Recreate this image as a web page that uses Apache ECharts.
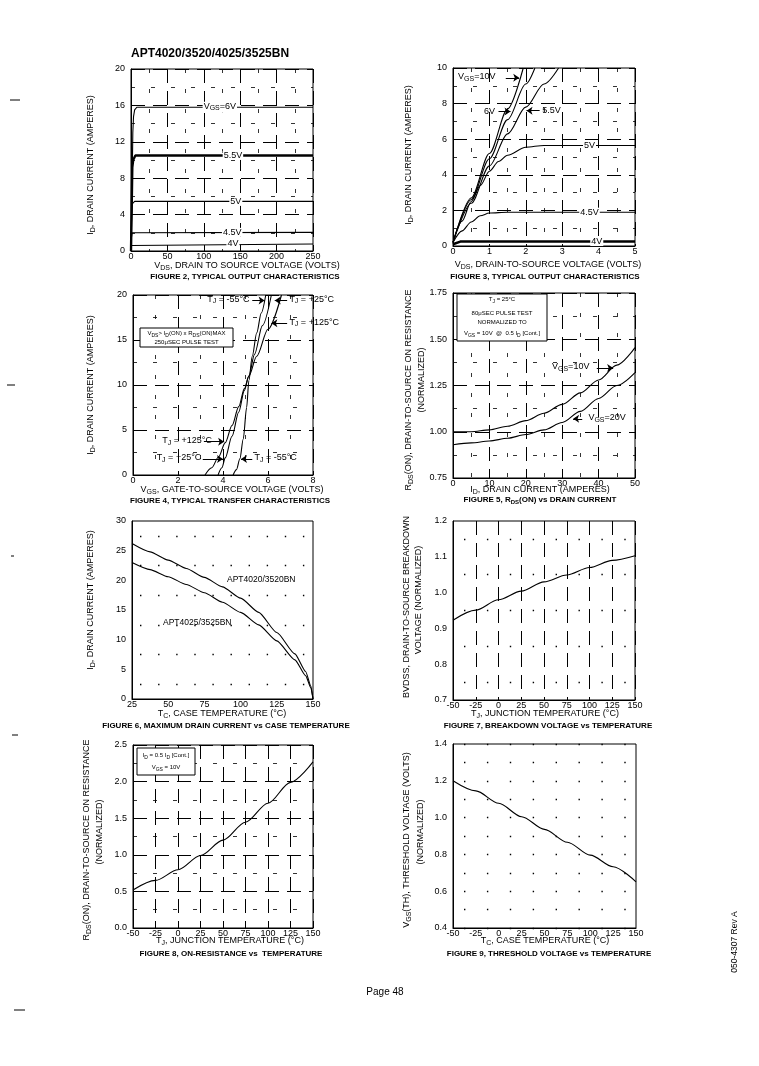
<!DOCTYPE html>
<html>
<head>
<meta charset="utf-8">
<title>APT4020/3520/4025/3525BN</title>
<script src="https://cdn.jsdelivr.net/npm/echarts@6.0.0/dist/echarts.min.js"></script>
<style>
html,body{margin:0;padding:0;background:#fff;}
#chart{width:759px;height:1066px;}
</style>
</head>
<body>
<div id="chart"></div>
<script>
// ================= DATA =================
// Figure 2 - typical output characteristics (VDS [V], ID [A])
const f2_xTicks = [0, 50, 100, 150, 200, 250];
const f2_yTicks = [0, 4, 8, 12, 16, 20];
const f2_vgs6  = [[0,0],[1,5],[2,10],[2.5,13],[3.5,14.8],[5,15.5],[8,15.8],[250,15.8]];
const f2_vgs55 = [[0,0],[1,5],[1.8,9.2],[3,10],[6,10.5],[250,10.5]];
const f2_vgs5  = [[0,0],[1,4],[2,5.2],[5,5.45],[250,5.45]];
const f2_vgs45 = [[0,0],[0.6,1.5],[1.5,2.0],[4,2.05],[250,2.05]];
const f2_vgs4  = [[0,0],[0.5,0.6],[1.5,0.77],[250,0.77]];

// Figure 3 - typical output characteristics, low VDS
const f3_xTicks = [0, 1, 2, 3, 4, 5];
const f3_yTicks = [0, 2, 4, 6, 8, 10];
const f3_vgs10 = [[0,0.2],[0.5,2.7],[1,5.2],[1.5,7.7],[1.93,10]];
const f3_vgs6  = [[0,0.2],[0.5,2.6],[1,4.9],[1.5,7.1],[2,9.1],[2.25,10]];
const f3_vgs55 = [[0,0.2],[0.5,2.4],[1,4.5],[1.5,6.3],[2,7.8],[2.5,9.1],[2.9,10]];
const f3_vgs5  = [[0,0.2],[0.25,1.4],[0.5,2.5],[0.75,3.4],[1,4.2],[1.25,4.75],[1.5,5.1],[2,5.55],[2.5,5.65],[5,5.65]];
const f3_vgs45 = [[0,0.2],[0.25,0.85],[0.5,1.35],[0.75,1.7],[1,1.85],[1.5,1.9],[5,1.9]];
const f3_vgs4  = [[0,0.1],[0.2,0.25],[5,0.25]];

// Figure 4 - typical transfer characteristics (VGS [V], ID [A])
const f4_xTicks = [0, 2, 4, 6, 8];
const f4_yTicks = [0, 5, 10, 15, 20];
const f4_tjm55 = [[4.45,0],[4.6,0.6],[4.75,1.8],[4.9,4.0],[5.05,7.5],[5.15,10.5],[5.3,13.2],[5.5,15.8],[5.7,18.0],[5.9,20]];
const f4_tj25  = [[3.78,0],[3.95,0.8],[4.1,1.9],[4.4,4.3],[4.7,7.0],[4.95,9.4],[5.15,11.0],[5.4,13.4],[5.75,16.6],[6.15,20]];
const f4_tj125 = [[3.2,0],[3.5,0.8],[3.8,2.0],[4.1,3.6],[4.4,5.5],[4.7,7.6],[4.95,9.6],[5.15,11.0],[5.5,13.2],[6.0,16.2],[6.6,20]];

// Figure 5 - RDS(ON) vs drain current (ID [A], normalized)
const f5_xTicks = [0, 10, 20, 30, 40, 50];
const f5_yTicks = [0.75, 1.00, 1.25, 1.50, 1.75];
const f5_vgs10 = [[0,1.0],[5,1.0],[10,1.01],[15,1.03],[20,1.06],[25,1.10],[30,1.148],[35,1.21],[40,1.28],[45,1.36],[50,1.455]];
const f5_vgs20 = [[0,0.93],[5,0.94],[10,0.95],[15,0.965],[20,0.985],[25,1.01],[30,1.05],[35,1.11],[40,1.18],[45,1.25],[50,1.32]];

// Figure 6 - maximum drain current vs case temperature (TC [C], ID [A])
const f6_xTicks = [25, 50, 75, 100, 125, 150];
const f6_yTicks = [0, 5, 10, 15, 20, 25, 30];
const f6_apt4020 = [[25,26.2],[37.5,24.8],[50,23.4],[62.5,22.0],[75,20.5],[87.5,18.9],[100,17.0],[112.5,14.6],[125,11.2],[137.5,7.6],[145,4.6],[148.5,2.2],[150,0]];
const f6_apt4025 = [[25,23.0],[37.5,21.8],[50,20.6],[62.5,19.3],[75,17.9],[87.5,16.3],[100,14.6],[112.5,12.5],[125,9.8],[137.5,6.6],[145,3.9],[148.5,1.9],[150,0]];

// Figure 7 - breakdown voltage vs temperature (TJ [C], normalized)
const f7_xTicks = [-50, -25, 0, 25, 50, 75, 100, 125, 150];
const f7_yTicks = [0.7, 0.8, 0.9, 1.0, 1.1, 1.2];
const f7_bvdss = [[-50,0.923],[-25,0.951],[0,0.98],[25,1.004],[50,1.03],[75,1.049],[100,1.07],[125,1.09],[150,1.103]];

// Figure 8 - on-resistance vs temperature (TJ [C], normalized)
const f8_xTicks = [-50, -25, 0, 25, 50, 75, 100, 125, 150];
const f8_yTicks = [0.0, 0.5, 1.0, 1.5, 2.0, 2.5];
const f8_rds = [[-50,0.52],[-25,0.65],[0,0.795],[25,0.99],[50,1.2],[75,1.445],[100,1.705],[125,1.99],[150,2.27]];

// Figure 9 - threshold voltage vs temperature (TC [C], normalized)
const f9_xTicks = [-50, -25, 0, 25, 50, 75, 100, 125, 150];
const f9_yTicks = [0.4, 0.6, 0.8, 1.0, 1.2, 1.4];
const f9_vth = [[-50,1.2],[-25,1.145],[0,1.078],[25,1.005],[50,0.936],[75,0.866],[100,0.796],[125,0.733],[150,0.651]];

// ================= LAYOUT / STYLE =================
const FONT = '"Liberation Sans", Arial, Helvetica, sans-serif';
const DASH   = {color:'#000', width:1, type:[14,8]};
const SPARSE = {color:'#000', width:0.8, type:[4,16]};
const DOT17  = {color:'#000', width:1.4, type:[1.4,16.7], dashOffset:-8};
const DOT23  = {color:'#000', width:1.4, type:[1.4,21.5], dashOffset:-11};

const figs = [
  {grid:{left:131, top:69,  width:182, height:182}, x:f2_xTicks, y:f2_yTicks, xs:DASH, ys:DASH, xm:SPARSE, ym:SPARSE, xd:0, yd:0},
  {grid:{left:453, top:68,  width:182, height:178}, x:f3_xTicks, y:f3_yTicks, xs:DASH, ys:DASH, xm:SPARSE, ym:SPARSE, xd:0, yd:0},
  {grid:{left:133, top:295, width:180, height:180}, x:f4_xTicks, y:f4_yTicks, xs:DASH, ys:DASH, xm:SPARSE, ym:SPARSE, xd:0, yd:0},
  {grid:{left:453, top:293, width:182, height:185}, x:f5_xTicks, y:f5_yTicks, xs:DASH, ys:DASH, xm:SPARSE, ym:SPARSE, xd:0, yd:2},
  {grid:{left:132, top:521, width:181, height:178}, x:f6_xTicks, y:f6_yTicks, xs:null, ys:null, xm:null, ym:DOT17, xd:0, yd:0},
  {grid:{left:453, top:521, width:182, height:179}, x:f7_xTicks, y:f7_yTicks, xs:DASH, ys:null, xm:null, ym:DOT23, xd:0, yd:1},
  {grid:{left:133, top:745, width:180, height:183}, x:f8_xTicks, y:f8_yTicks, xs:DASH, ys:DASH, xm:null, ym:SPARSE, xd:0, yd:1},
  {grid:{left:453, top:744, width:183, height:184}, x:f9_xTicks, y:f9_yTicks, xs:null, ys:DOT23, xm:null, ym:DOT23, xd:0, yd:1}
];

function axis(i, ticks, split, minor, dec, isX) {
  const step = +(ticks[1] - ticks[0]).toFixed(6);
  return {
    gridIndex: i, type: 'value',
    min: ticks[0], max: ticks[ticks.length - 1], interval: step,
    axisLine: {show: true, onZero: false, lineStyle: {color: '#000', width: 1}},
    axisTick: {show: false},
    minorTick: {show: false, splitNumber: 2},
    axisLabel: {color: '#000', fontSize: 9, fontFamily: FONT, margin: isX ? 1 : 6,
      formatter: v => (+v).toFixed(dec)},
    splitLine: {show: !!split, lineStyle: split || DASH},
    minorSplitLine: {show: !!minor, lineStyle: minor || SPARSE}
  };
}

const grid = figs.map(f => Object.assign({show: true, borderColor: '#000', borderWidth: 1, backgroundColor: 'transparent'}, f.grid));
const xAxis = figs.map((f, i) => axis(i, f.x, f.xs, f.xm, f.xd, true));
const yAxis = figs.map((f, i) => axis(i, f.y, f.ys, f.ym, f.yd, false));

function line(g, data, width, smooth) {
  return {type: 'line', xAxisIndex: g, yAxisIndex: g, data: data, showSymbol: false, symbol: 'none',
    smooth: smooth === undefined ? 0.3 : smooth, smoothMonotone: 'x',
    lineStyle: {color: '#000', width: width || 1.1}, z: 5, silent: true, animation: false};
}

const series = [
  line(0, f2_vgs6, 1.1, false), line(0, f2_vgs55, 2.4, false), line(0, f2_vgs5, 1.1, false),
  line(0, f2_vgs45, 1.1, false), line(0, f2_vgs4, 1.1, false),
  line(1, f3_vgs10), line(1, f3_vgs6), line(1, f3_vgs55), line(1, f3_vgs5), line(1, f3_vgs45), line(1, f3_vgs4, 2.5, false),
  line(2, f4_tjm55), line(2, f4_tj25), line(2, f4_tj125),
  line(3, f5_vgs10), line(3, f5_vgs20),
  line(4, f6_apt4020, 1.1, 0.2), line(4, f6_apt4025, 1.1, 0.2),
  line(5, f7_bvdss), line(6, f8_rds), line(7, f9_vth)
];

// arrows (data coordinates)
const arrows = [
  {g:1, from:[1.45,9.45], to:[1.82,9.45]},
  {g:1, from:[1.25,7.55], to:[1.58,7.55]},
  {g:1, from:[2.38,7.6],  to:[2.02,7.6]},
  {g:2, from:[5.3,19.4],  to:[5.85,19.4]},
  {g:2, from:[6.85,19.4], to:[6.3,19.4]},
  {g:2, from:[6.85,16.85],to:[6.15,16.85]},
  {g:2, from:[3.15,3.7],  to:[4.05,3.7]},
  {g:2, from:[3.1,1.78],  to:[4.0,1.78]},
  {g:2, from:[5.3,1.78],  to:[4.8,1.78]},
  {g:3, from:[39.5,1.345],to:[44,1.345]},
  {g:3, from:[35.5,1.07], to:[33,1.07]}
];
arrows.forEach(a => series.push({
  type: 'lines', coordinateSystem: 'cartesian2d', xAxisIndex: a.g, yAxisIndex: a.g,
  symbol: ['none', 'arrow'], symbolSize: 6, silent: true, animation: false, z: 6,
  lineStyle: {color: '#000', width: 1, opacity: 1},
  data: [{coords: [a.from, a.to]}]
}));

// on-plot annotation labels (data coordinates)
const labels = [
  {g:0, x:122, y:15.8, t:'{n|V}{s|GS}{n|=6V}', bg:true},
  {g:0, x:140, y:10.5, t:'5.5V', bg:true},
  {g:0, x:144, y:5.45, t:'5V', bg:true},
  {g:0, x:139, y:2.05, t:'4.5V', bg:true},
  {g:0, x:140, y:0.77, t:'4V', bg:true},
  {g:1, x:0.14, y:9.45, t:'{n|V}{s|GS}{n|=10V}', align:'left'},
  {g:1, x:0.85, y:7.55, t:'6V', align:'left'},
  {g:1, x:2.45, y:7.6, t:'5.5V', align:'left'},
  {g:1, x:3.75, y:5.65, t:'5V', bg:true},
  {g:1, x:3.75, y:1.9, t:'4.5V', bg:true},
  {g:1, x:3.95, y:0.25, t:'4V', bg:true},
  {g:2, x:3.3, y:19.4, t:'{n|T}{s|J}{n| = -55°C}', align:'left'},
  {g:2, x:6.95, y:19.4, t:'{n|T}{s|J}{n| = +25°C}', align:'left'},
  {g:2, x:6.95, y:16.85, t:'{n|T}{s|J}{n| = +125°C}', align:'left'},
  {g:2, x:1.3, y:3.7, t:'{n|T}{s|J}{n| = +125°C}', align:'left'},
  {g:2, x:1.05, y:1.78, t:'{n|T}{s|J}{n| = +25°C}', align:'left'},
  {g:2, x:5.4, y:1.78, t:'{n|T}{s|J}{n| = -55°C}', align:'left'},
  {g:3, x:27.2, y:1.345, t:'{n|V}{s|GS}{n|=10V}', align:'left'},
  {g:3, x:37.2, y:1.07, t:'{n|V}{s|GS}{n|=20V}', align:'left'},
  {g:4, x:90.6, y:20.1, t:'APT4020/3520BN', align:'left', size:8.5},
  {g:4, x:46.4, y:12.8, t:'APT4025/3525BN', align:'left', size:8.5}
];

// ================= TEXT HELPERS =================
function richSet(size, weight) {
  const L = Math.round(size + 2);
  return {
    n: {fontSize: size, fontWeight: weight, fontFamily: FONT, fill: '#000', color: '#000', lineHeight: L, verticalAlign: 'top'},
    s: {fontSize: Math.round(size * 0.75), fontWeight: weight, fontFamily: FONT, fill: '#000', color: '#000', lineHeight: L, verticalAlign: 'top', padding: [3, 0, 0, 0]}
  };
}
function txt(x, y, text, o) {
  o = o || {};
  const size = o.size || 9;
  const weight = o.bold ? 'bold' : 'normal';
  const style = {
    text: text, fill: '#000',
    font: weight + ' ' + size + 'px ' + FONT,
    align: o.align || 'center', verticalAlign: o.va || 'middle',
    rich: richSet(size, weight)
  };
  if (o.bg) { style.backgroundColor = '#fff'; style.padding = [0, 1]; }
  return {type: 'text', x: x, y: y, rotation: o.rot || 0, z: 100, silent: true, style: style};
}
const R = Math.PI / 2;

const base = [
  txt(131, 54, 'APT4020/3520/4025/3525BN', {size: 12, bold: true, align: 'left'}),
  // Figure 2
  txt(92, 165, '{n|I}{s|D}{n|, DRAIN CURRENT (AMPERES)}', {rot: R}),
  txt(247, 267, '{n|V}{s|DS}{n|, DRAIN TO SOURCE VOLTAGE (VOLTS)}'),
  txt(245, 277, 'FIGURE 2, TYPICAL OUTPUT CHARACTERISTICS', {size: 8, bold: true}),
  // Figure 3
  txt(410, 155, '{n|I}{s|D}{n|, DRAIN CURRENT (AMPERES)}', {rot: R}),
  txt(548, 266, '{n|V}{s|DS}{n|, DRAIN-TO-SOURCE VOLTAGE (VOLTS)}'),
  txt(545, 277, 'FIGURE 3, TYPICAL OUTPUT CHARACTERISTICS', {size: 8, bold: true}),
  // Figure 4
  txt(92, 385, '{n|I}{s|D}{n|, DRAIN CURRENT (AMPERES)}', {rot: R}),
  txt(232, 491, '{n|V}{s|GS}{n|, GATE-TO-SOURCE VOLTAGE (VOLTS)}'),
  txt(230, 501, 'FIGURE 4, TYPICAL TRANSFER CHARACTERISTICS', {size: 8, bold: true}),
  // Figure 5
  txt(410, 390, '{n|R}{s|DS}{n|(ON), DRAIN-TO-SOURCE ON RESISTANCE}', {rot: R}),
  txt(422, 380, '(NORMALIZED)', {rot: R}),
  txt(540, 491, '{n|I}{s|D}{n|, DRAIN CURRENT (AMPERES)}'),
  txt(540, 501, '{n|FIGURE 5, R}{s|DS}{n|(ON) vs DRAIN CURRENT}', {size: 8, bold: true}),
  // Figure 6
  txt(92, 600, '{n|I}{s|D}{n|, DRAIN CURRENT (AMPERES)}', {rot: R}),
  txt(222, 715, '{n|T}{s|C}{n|, CASE TEMPERATURE (°C)}'),
  txt(226, 726, 'FIGURE 6, MAXIMUM DRAIN CURRENT vs CASE TEMPERATURE', {size: 8, bold: true}),
  // Figure 7
  txt(407, 607, 'BVDSS, DRAIN-TO-SOURCE BREAKDOWN', {rot: R}),
  txt(419, 600, 'VOLTAGE (NORMALIZED)', {rot: R}),
  txt(545, 715, '{n|T}{s|J}{n|, JUNCTION TEMPERATURE (°C)}'),
  txt(548, 726, 'FIGURE 7, BREAKDOWN VOLTAGE vs TEMPERATURE', {size: 8, bold: true}),
  // Figure 8
  txt(88, 840, '{n|R}{s|DS}{n|(ON), DRAIN-TO-SOURCE ON RESISTANCE}', {rot: R}),
  txt(100, 832, '(NORMALIZED)', {rot: R}),
  txt(230, 942, '{n|T}{s|J}{n|, JUNCTION TEMPERATURE (°C)}'),
  txt(231, 954, 'FIGURE 8, ON-RESISTANCE vs  TEMPERATURE', {size: 8, bold: true}),
  // Figure 9
  txt(408, 840, '{n|V}{s|GS}{n|(TH), THRESHOLD VOLTAGE (VOLTS)}', {rot: R}),
  txt(421, 832, '(NORMALIZED)', {rot: R}),
  txt(545, 942, '{n|T}{s|C}{n|, CASE TEMPERATURE (°C)}'),
  txt(549, 954, 'FIGURE 9, THRESHOLD VOLTAGE vs TEMPERATURE', {size: 8, bold: true}),
  // footer
  txt(385, 992, 'Page 48', {size: 10}),
  txt(735, 942, '050-4307 Rev A', {size: 8.5, rot: R}),
  // boxes
  {type: 'rect', shape: {x: 140, y: 328, width: 93, height: 19}, z: 90, silent: true, style: {fill: '#fff', stroke: '#000', lineWidth: 1}},
  txt(186.5, 334, '{n|V}{s|DS}{n|> I}{s|D}{n|(ON) x R}{s|DS}{n|(ON)MAX}', {size: 6}),
  txt(186.5, 342, '250μSEC PULSE TEST', {size: 6}),
  {type: 'rect', shape: {x: 457, y: 294, width: 90, height: 47}, z: 90, silent: true, style: {fill: '#fff', stroke: '#000', lineWidth: 1}},
  txt(502, 300, '{n|T}{s|J}{n| = 25°C}', {size: 6}),
  txt(502, 313, '80μSEC PULSE TEST', {size: 6}),
  txt(502, 322, 'NORMALIZED TO', {size: 6}),
  txt(502, 334, '{n|V}{s|GS}{n| = 10V  @  0.5 I}{s|D}{n| [Cont.]}', {size: 6}),
  {type: 'rect', shape: {x: 137, y: 748, width: 58, height: 27}, z: 90, silent: true, style: {fill: '#fff', stroke: '#000', lineWidth: 1}},
  txt(166, 756, '{n|I}{s|D}{n| = 0.5 I}{s|D}{n| [Cont.]}', {size: 6}),
  txt(166, 768, '{n|V}{s|GS}{n| = 10V}', {size: 6}),
  // scan margin marks
  {type: 'line', shape: {x1: 10, y1: 100, x2: 20, y2: 100}, style: {stroke: '#000', lineWidth: 1}, silent: true},
  {type: 'line', shape: {x1: 7, y1: 385, x2: 15, y2: 385}, style: {stroke: '#000', lineWidth: 1}, silent: true},
  {type: 'line', shape: {x1: 11, y1: 556, x2: 14, y2: 556}, style: {stroke: '#000', lineWidth: 1}, silent: true},
  {type: 'line', shape: {x1: 12, y1: 735, x2: 18, y2: 735}, style: {stroke: '#000', lineWidth: 1}, silent: true},
  {type: 'line', shape: {x1: 14, y1: 1010, x2: 25, y2: 1010}, style: {stroke: '#000', lineWidth: 1}, silent: true}
];

const chart = echarts.init(document.getElementById('chart'), null, {renderer: 'canvas'});
chart.setOption({
  backgroundColor: '#fff',
  animation: false,
  textStyle: {fontFamily: FONT, color: '#000'},
  grid: grid, xAxis: xAxis, yAxis: yAxis, series: series
});

const extra = labels.map(l => {
  const p = chart.convertToPixel({gridIndex: l.g}, [l.x, l.y]);
  return txt(p[0], p[1], l.t, {align: l.align || 'center', bg: l.bg, size: l.size || 9});
});
chart.setOption({graphic: base.concat(extra)});
</script>
</body>
</html>
